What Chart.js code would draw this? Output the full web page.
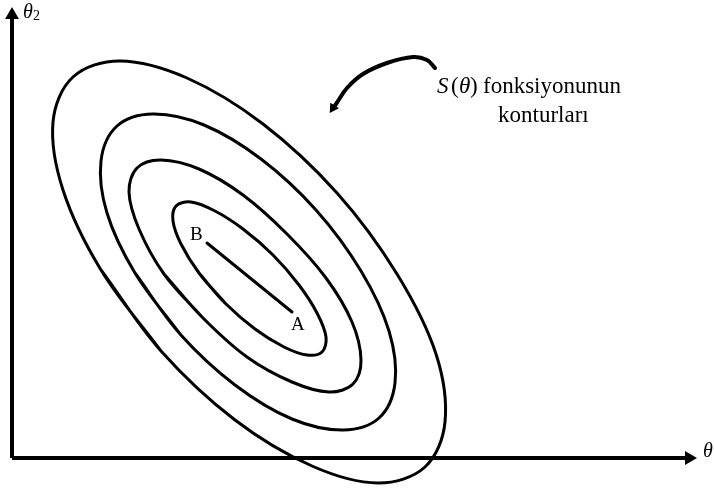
<!DOCTYPE html>
<html>
<head>
<meta charset="utf-8">
<script src="https://cdn.jsdelivr.net/npm/chart.js@4.4.1/dist/chart.umd.min.js"></script>
<style>
  html, body { margin: 0; padding: 0; background: #fff; }
  canvas { display: block; }
</style>
</head>
<body>
<canvas id="contour-chart" width="714" height="489"></canvas>
<script>
// contour loops of S(theta), outer to inner, as [theta1, theta2] pairs
// (each loop starts on its flat lower-left side and runs one point past the start,
//  so the first segment is drawn twice and the join stays smooth)
const contourOuter = [
  [14.9,10.7],[8.9,18.8],[5.1,26.8],[4.1,33.6],[6.1,38.1],[10.8,39.7],[17.5,38.0],[25.1,33.4],
  [32.5,26.5],[38.5,18.4],[42.4,10.4],[43.3,3.6],[41.3,-0.9],[36.6,-2.5],[30.0,-0.8],[22.3,3.8],
  [14.9,10.7],[8.9,18.8]
];
const contourSecond = [
  [16.8,12.4],[12.3,18.5],[9.5,24.5],[8.9,29.7],[10.5,33.2],[14.1,34.4],[19.2,33.3],[24.9,29.9],
  [30.4,24.8],[34.9,18.7],[37.7,12.7],[38.3,7.5],[36.7,4.0],[33.1,2.8],[28.0,3.9],[22.3,7.3],
  [16.8,12.4],[12.3,18.5]
];
const contourThird = [
  [19.1,14.0],[15.2,18.4],[12.7,22.9],[11.7,26.6],[12.5,29.0],[14.9,29.8],[18.7,28.9],[23.1,26.3],
  [27.5,22.4],[31.4,18.0],[34.0,13.6],[34.9,9.8],[34.1,7.4],[31.7,6.6],[28.0,7.6],[23.5,10.1],
  [19.1,14.0],[15.2,18.4]
];
const contourInner = [
  [21.3,15.5],[18.7,18.5],[16.9,21.4],[16.1,23.7],[16.4,25.2],[17.9,25.6],[20.3,24.7],[23.1,22.9],
  [26.1,20.3],[28.7,17.3],[30.5,14.5],[31.4,12.1],[31.0,10.6],[29.5,10.3],[27.2,11.1],[24.3,12.9],
  [21.3,15.5],[18.7,18.5]
];

// step from B to A
const pathBA = [[19.5,21.5],[28.0,14.6]];

// axes, arrowhead sits on the last point
const axisTheta1 = [[0,0],[67.7,0]];
const axisTheta2 = [[0,0],[0,44.3]];

// hand-drawn callout pointing at the contours
const calloutArrow = [[42.3,39.0],[41.5,39.8],[40.1,40.1],[37.5,39.5],[35.1,38.4],[33.5,37.0],[32.4,35.4],[32.1,35.0]];

// text: [text, theta1, theta2 (baseline), font]
const textLabels = [
  ['θ', 1.1, 44.0, 'italic 20px "Liberation Serif"'],
  ['2', 2.1, 43.8, '14px "Liberation Serif"'],
  ['θ', 69.1, 0.1, 'italic 20px "Liberation Serif"'],
  ['B', 17.8, 21.8, '19px "Liberation Serif"'],
  ['A', 27.9, 12.8, '19px "Liberation Serif"'],
  ['S', 42.5, 36.5, 'italic 23px "Liberation Serif"'],
  ['(', 43.9, 36.5, '23px "Liberation Serif"'],
  ['θ', 44.7, 36.5, 'italic 23px "Liberation Serif"'],
  [')', 45.8, 36.5, '23px "Liberation Serif"'],
  ['fonksiyonunun', 47.1, 36.5, '23px "Liberation Serif"'],
  ['konturları', 48.6, 33.6, '23px "Liberation Serif"']
];

const toXY = pts => pts.map(p => ({x: p[0], y: p[1]}));

function curve(pts, width, tension) {
  return {
    data: toXY(pts),
    showLine: true,
    borderColor: '#000',
    borderWidth: width,
    tension: tension,
    pointRadius: 0,
    borderCapStyle: 'round',
    borderJoinStyle: 'round'
  };
}

function axis(pts, rot) {
  return {
    data: toXY(pts),
    showLine: true,
    borderColor: '#000',
    borderWidth: 4,
    pointRadius: [0, 8],
    pointStyle: 'triangle',
    rotation: rot,
    pointBackgroundColor: '#000',
    pointBorderWidth: 0
  };
}

const arrowHead = {
  data: toXY([calloutArrow[calloutArrow.length - 1]]),
  pointStyle: 'triangle',
  pointRadius: 6,
  rotation: 213,
  pointBackgroundColor: '#000',
  pointBorderWidth: 0
};

const labelPlugin = {
  id: 'textLabels',
  afterDatasetsDraw(chart) {
    const {ctx, scales: {x, y}} = chart;
    ctx.save();
    ctx.fillStyle = '#000';
    ctx.textBaseline = 'alphabetic';
    for (const [txt, tx, ty, font] of textLabels) {
      ctx.font = font;
      ctx.fillText(txt, x.getPixelForValue(tx), y.getPixelForValue(ty));
    }
    ctx.restore();
  }
};

new Chart(document.getElementById('contour-chart'), {
  type: 'scatter',
  data: {
    datasets: [
      axis(axisTheta1, 90),
      axis(axisTheta2, 0),
      curve(contourOuter, 3, 0.35),
      curve(contourSecond, 3, 0.35),
      curve(contourThird, 3, 0.35),
      curve(contourInner, 3, 0.35),
      curve(pathBA, 3, 0),
      curve(calloutArrow, 4, 0.4),
      arrowHead
    ]
  },
  options: {
    responsive: false,
    animation: false,
    layout: { padding: 0, autoPadding: false },
    plugins: { legend: { display: false }, tooltip: { enabled: false } },
    scales: {
      x: { type: 'linear', min: -1.2, max: 70.2, display: false },
      y: { type: 'linear', min: -3.1, max: 45.8, display: false }
    }
  },
  plugins: [labelPlugin]
});
</script>
</body>
</html>
